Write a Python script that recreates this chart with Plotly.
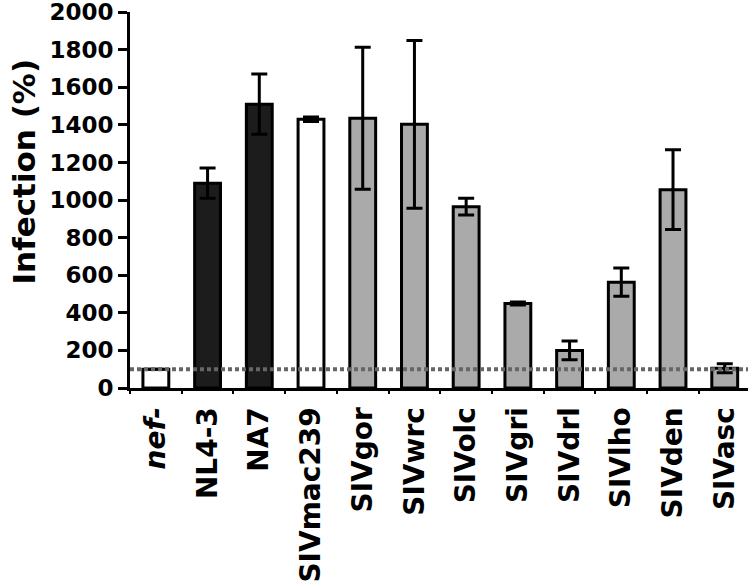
import plotly.graph_objects as go

CATEGORIES = ["nef-", "NL4-3", "NA7", "SIVmac239", "SIVgor", "SIVwrc", "SIVolc",
              "SIVgri", "SIVdrl", "SIVlho", "SIVden", "SIVasc"]
TICK_LABELS = ["<i>nef-</i>", "NL4-3", "NA7", "SIVmac239", "SIVgor", "SIVwrc", "SIVolc",
               "SIVgri", "SIVdrl", "SIVlho", "SIVden", "SIVasc"]
INFECTION = [100, 1090, 1510, 1430, 1435, 1403, 965, 450, 200, 563, 1055, 105]
ERRORS = [None, 80, 160, 12, 378, 446, 44, 8, 50, 75, 212, 24]
BAR_COLORS = ["#ffffff", "#1c1c1c", "#1c1c1c", "#ffffff", "#aaaaaa", "#aaaaaa", "#aaaaaa",
              "#aaaaaa", "#aaaaaa", "#aaaaaa", "#aaaaaa", "#aaaaaa"]
Y_TICKS = [0, 200, 400, 600, 800, 1000, 1200, 1400, 1600, 1800, 2000]
BASELINE = 100
Y_TITLE = "Infection (%)"

FONT = "DejaVu Sans"

fig = go.Figure()
fig.add_trace(go.Bar(
    x=CATEGORIES,
    y=INFECTION,
    width=0.5,
    marker=dict(color=BAR_COLORS, line=dict(color="black", width=3)),
    error_y=dict(type="data", array=ERRORS, visible=True, color="black",
                 thickness=3, width=8),
    showlegend=False,
))

fig.add_shape(type="line", xref="paper", yref="y", x0=0, x1=1, y0=BASELINE, y1=BASELINE,
              line=dict(color="#666666", width=4, dash="4px,3px"), layer="above")

fig.add_annotation(
    text=Y_TITLE, textangle=-90, showarrow=False,
    xref="paper", yref="paper", x=0, y=0.576, xanchor="center", yanchor="middle",
    xshift=-106,
    font=dict(family=FONT, size=31, color="black", weight="bold"),
)

fig.update_layout(
    width=750, height=585,
    margin=dict(l=129.5, r=2, t=12, b=197, autoexpand=False),
    paper_bgcolor="white", plot_bgcolor="white",
    xaxis=dict(
        type="category",
        range=[-0.5, 11.45],
        tickmode="array", tickvals=CATEGORIES, ticktext=TICK_LABELS,
        tickangle=-90,
        tickson="boundaries",
        ticks="outside", ticklen=3, tickwidth=2, tickcolor="black",
        ticklabelstandoff=5,
        showline=True, linecolor="black", linewidth=3,
        showgrid=False, zeroline=False, automargin=False,
        ticklabeloverflow="allow",
        tickfont=dict(family=FONT, size=28, color="black", weight="bold"),
    ),
    yaxis=dict(
        range=[0, 2000.5],
        tickmode="array", tickvals=Y_TICKS,
        ticks="outside", ticklen=9, tickwidth=3, tickcolor="black",
        showline=True, linecolor="black", linewidth=3,
        showgrid=False, zeroline=False, automargin=False,
        ticklabeloverflow="allow",
        tickfont=dict(family=FONT, size=23, color="black", weight="bold"),
    ),
)

# remove the page's default 8px body margin so the figure fills the window exactly
fig.write_html("out.html", config={"displayModeBar": False},
               post_script="document.body.style.margin='0px';")
